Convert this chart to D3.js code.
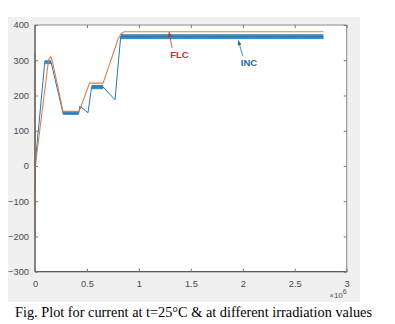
<!DOCTYPE html>
<html><head><meta charset="utf-8">
<script src="https://cdn.jsdelivr.net/npm/d3@7"></script>
<style>body{margin:0;background:#fff}svg{display:block}</style>
</head><body>
<script>
// x values in units of 1e6
const flcX = [0, 0.001, 0.003, 0.13, 0.15, 0.165, 0.27, 0.425, 0.525, 0.655, 0.8, 0.83, 0.86, 2.775];
const flcY = [320, -200, 0, 300, 310, 300, 155, 155, 235, 235, 360, 376, 381, 381];
const incX = [0, 0.095, 0.155, 0.27, 0.42, 0.432, 0.51, 0.545, 0.655, 0.77, 0.825, 2.775];
const incY = [0, 298, 294, 149, 149, 170, 151, 224, 224, 188, 367, 367];
// oscillation bands of INC: start, end, low, high
const bandStart = [0.1, 0.27, 0.545, 0.825];
const bandEnd   = [0.155, 0.42, 0.655, 2.775];
const bandLow   = [289, 145, 218, 360];
const bandHigh  = [300, 153, 230, 374];
const xTicks = [0, 0.5, 1, 1.5, 2, 2.5, 3];
const yTicks = [-300, -200, -100, 0, 100, 200, 300, 400];
const labels = [
  {text: "FLC", tx: 1.39, ty: 315, ax: 1.29, ay: 380, tailY: 334, tailX: 1.32, color: "#c8302b"},
  {text: "INC", tx: 2.06, ty: 293, ax: 1.957, ay: 356, tailY: 312, tailX: 2.0, color: "#1f6a9a"}
];
const caption = "Fig. Plot for current at t=25°C & at different irradiation values";

const W = 395, H = 324;
const svg = d3.select("body").append("svg").attr("width", W).attr("height", H);
svg.append("rect").attr("x", 8).attr("y", 17).attr("width", 352).attr("height", 285).attr("fill", "#f0f0f0");

const m = {l: 35, t: 25, r: 346.7, b: 271.7};
const x = d3.scaleLinear().domain([0, 3]).range([m.l, m.r]);
const y = d3.scaleLinear().domain([-300, 400]).range([m.b, m.t]);

svg.append("rect").attr("x", m.l).attr("y", m.t).attr("width", m.r - m.l).attr("height", m.b - m.t).attr("fill", "#fff");

const blue = "#2279b5", orange = "#d9804f";
const line = d3.line().x(d => x(d[0])).y(d => y(d[1]));

// INC bands
const bands = bandStart.map((s, i) => ({s, e: bandEnd[i], lo: bandLow[i], hi: bandHigh[i]}));
const g = svg.append("g");
g.selectAll("rect.band").data(bands).join("rect")
  .attr("x", d => x(d.s)).attr("width", d => x(d.e) - x(d.s))
  .attr("y", d => y(d.hi)).attr("height", d => y(d.lo) - y(d.hi))
  .attr("fill", blue).attr("opacity", 0.9);
// texture stripes within bands
bands.forEach(b => {
  const n = Math.floor((x(b.e) - x(b.s)) / 1.5);
  const pts = d3.range(n + 1).map(i => b.s + (b.e - b.s) * i / n);
  g.append("path").attr("d", pts.map(p => `M${x(p)},${y(b.hi)}v${y(b.lo) - y(b.hi)}`).join(""))
    .attr("stroke", "#5aa0d0").attr("stroke-width", 0.5).attr("opacity", 0.6);
});

g.append("path").datum(incX.map((v, i) => [v, incY[i]])).attr("d", line)
  .attr("fill", "none").attr("stroke", blue).attr("stroke-width", 1);
g.append("path").datum(flcX.map((v, i) => [v, flcY[i]])).attr("d", line)
  .attr("fill", "none").attr("stroke", orange).attr("stroke-width", 1.1);

// axes box
const ax = "#4d4d4d";
svg.append("rect").attr("x", m.l).attr("y", m.t).attr("width", m.r - m.l).attr("height", m.b - m.t)
  .attr("fill", "none").attr("stroke", "#8a8a8a").attr("stroke-width", 1);
svg.append("line").attr("x1", m.l).attr("x2", m.r).attr("y1", m.b).attr("y2", m.b).attr("stroke", ax);
svg.append("line").attr("x1", m.l).attr("x2", m.l).attr("y1", m.t).attr("y2", m.b).attr("stroke", ax);

const xa = svg.append("g").attr("transform", `translate(0,${m.b})`)
  .call(d3.axisBottom(x).tickValues(xTicks).tickSize(-3).tickPadding(9).tickFormat(d3.format("~g")));
const xt = svg.append("g").attr("transform", `translate(0,${m.t})`)
  .call(d3.axisTop(x).tickValues(xTicks).tickSize(-3).tickFormat(""));
const ya = svg.append("g").attr("transform", `translate(${m.l},0)`)
  .call(d3.axisLeft(y).tickValues(yTicks).tickSize(-3).tickPadding(6));
const yr = svg.append("g").attr("transform", `translate(${m.r},0)`)
  .call(d3.axisRight(y).tickValues(yTicks).tickSize(-3).tickFormat(""));
[xa, xt, ya, yr].forEach(a => {
  a.select(".domain").remove();
  a.selectAll("line").attr("stroke", "#777");
  a.selectAll("text").attr("fill", "#4a4a4a").attr("font-family", "Liberation Sans, Arial, sans-serif").attr("font-size", 9.3);
});

// x10^6
const ex = svg.append("text").attr("x", m.r).attr("y", 298).attr("text-anchor", "end")
  .attr("font-family", "Liberation Sans, Arial, sans-serif").attr("fill", "#555").attr("font-size", 8);
ex.append("tspan").text("×10");
ex.append("tspan").attr("dy", -4).attr("font-size", 7).text("6");

// annotations
labels.forEach(l => {
  svg.append("line").attr("x1", x(l.tailX)).attr("y1", y(l.tailY)).attr("x2", x(l.ax)).attr("y2", y(l.ay))
    .attr("stroke", l.color).attr("stroke-width", 0.8);
  const px = x(l.ax), py = y(l.ay);
  const ang = Math.atan2(y(l.tailY) - py, x(l.tailX) - px);
  const a1 = ang + 0.4, a2 = ang - 0.4, len = 5;
  svg.append("path").attr("d", `M${px},${py}L${px + len * Math.cos(a1)},${py + len * Math.sin(a1)}L${px + len * Math.cos(a2)},${py + len * Math.sin(a2)}Z`)
    .attr("fill", l.color);
  svg.append("text").attr("x", x(l.tx)).attr("y", y(l.ty)).attr("dy", "0.35em").attr("text-anchor", "middle")
    .attr("font-family", "Liberation Sans, Arial, sans-serif").attr("font-size", 9.5).attr("font-weight", 600)
    .attr("fill", l.color).text(l.text);
});

svg.append("text").attr("x", 15).attr("y", 317).attr("font-family", "Liberation Serif, Times New Roman, serif")
  .attr("font-size", 14.3).attr("fill", "#000").text(caption);
</script>
</body></html>
